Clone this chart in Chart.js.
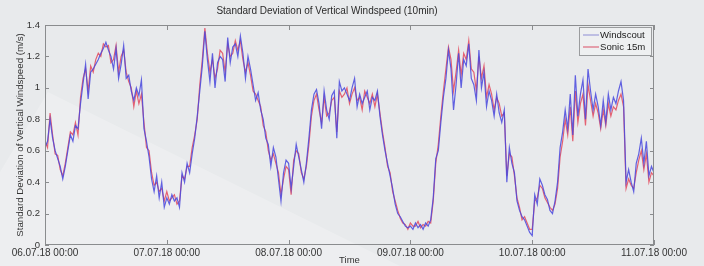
<!DOCTYPE html>
<html><head><meta charset="utf-8">
<script src="https://cdn.jsdelivr.net/npm/chart.js@4.4.1/dist/chart.umd.min.js"></script>
<style>html,body{margin:0;padding:0;background:#e8eaec;}#wrap{width:704px;height:266px;}</style>
</head><body><div id="wrap"><canvas id="c" width="704" height="266"></canvas></div>
<script>
// Tick labels (one per day)
const tickLabels = ["06.07.18 00:00","07.07.18 00:00","08.07.18 00:00","09.07.18 00:00","10.07.18 00:00","11.07.18 00:00"];
// sampling step of the series, hours
const stepHours = 0.5;
const seriesNames = ["Windscout","Sonic 15m"];

const windscout = [
0.62,0.66,0.80,0.68,0.60,0.55,0.50,0.42,0.50,0.60,0.70,0.66,0.76,0.74,0.90,1.03,1.15,0.93,1.10,1.12,1.15,1.18,1.22,1.25,1.29,1.24,1.20,1.12,1.25,1.06,1.15,1.27,1.06,1.08,0.98,0.92,1.00,0.95,1.05,0.74,0.66,0.56,0.42,0.34,0.44,0.30,0.40,0.24,
0.30,0.26,0.32,0.28,0.30,0.24,0.46,0.40,0.52,0.46,0.58,0.68,0.82,0.98,1.14,1.36,1.18,1.04,1.22,1.00,1.16,1.20,1.18,1.04,1.32,1.16,1.26,1.28,1.20,1.33,1.22,1.06,1.20,1.12,1.02,0.92,0.97,0.86,0.80,0.68,0.64,0.50,0.62,0.56,0.42,0.28,0.46,0.54,
0.52,0.36,0.50,0.64,0.56,0.48,0.40,0.52,0.68,0.86,0.96,0.99,0.90,0.74,0.98,0.86,0.80,0.95,0.98,0.68,1.04,0.98,1.00,0.96,0.92,1.00,1.06,0.88,0.96,0.90,0.94,0.98,0.86,0.94,0.92,0.98,0.82,0.70,0.60,0.52,0.44,0.36,0.26,0.20,0.18,0.15,0.12,0.11,
0.12,0.10,0.14,0.11,0.13,0.10,0.14,0.12,0.16,0.30,0.55,0.60,0.78,0.94,1.06,1.24,1.12,0.86,1.02,1.22,1.00,1.18,1.14,1.28,1.06,1.02,0.92,1.24,1.00,1.10,0.88,0.98,0.92,0.82,0.96,0.84,0.78,0.86,0.40,0.62,0.52,0.46,0.28,0.22,0.18,0.16,0.12,0.08,
0.06,0.32,0.26,0.42,0.38,0.32,0.29,0.22,0.20,0.28,0.40,0.62,0.72,0.86,0.74,0.96,0.70,1.08,0.82,0.96,1.05,0.80,1.12,0.98,0.86,0.96,0.88,0.76,0.92,0.78,0.96,0.86,0.94,0.90,0.98,1.04,0.92,0.40,0.48,0.40,0.34,0.52,0.58,0.68,0.52,0.66,0.44,0.50,0.46
];
const sonic = [
0.66,0.62,0.84,0.70,0.58,0.57,0.48,0.44,0.52,0.62,0.72,0.70,0.78,0.70,0.94,1.06,1.12,0.98,1.14,1.10,1.18,1.22,1.20,1.28,1.26,1.27,1.16,1.18,1.27,1.10,1.20,1.24,1.10,1.04,1.00,0.88,0.98,0.90,0.96,0.78,0.62,0.60,0.46,0.38,0.40,0.34,0.36,0.28,
0.34,0.28,0.30,0.32,0.26,0.28,0.44,0.42,0.50,0.50,0.62,0.70,0.80,1.02,1.18,1.38,1.22,1.10,1.18,1.06,1.12,1.24,1.22,1.10,1.28,1.20,1.22,1.30,1.24,1.30,1.18,1.10,1.16,1.08,0.98,0.96,0.92,0.88,0.76,0.72,0.60,0.54,0.58,0.52,0.46,0.32,0.42,0.50,
0.48,0.32,0.54,0.60,0.58,0.46,0.42,0.50,0.64,0.82,0.92,0.96,0.86,0.78,0.94,0.82,0.84,0.92,0.94,0.72,0.98,0.94,0.96,1.00,0.90,0.96,1.00,0.92,0.94,0.86,0.98,0.94,0.90,0.96,0.88,0.96,0.84,0.72,0.62,0.50,0.46,0.34,0.28,0.22,0.17,0.14,0.13,0.10,
0.14,0.12,0.12,0.15,0.11,0.13,0.12,0.15,0.14,0.28,0.52,0.64,0.82,0.98,1.12,1.26,1.18,0.98,1.10,1.24,1.08,1.22,1.18,1.30,1.12,1.10,0.98,1.20,1.06,1.14,0.94,1.02,0.96,0.86,0.94,0.90,0.82,0.84,0.44,0.58,0.56,0.44,0.30,0.24,0.16,0.18,0.14,0.10,
0.10,0.28,0.30,0.38,0.36,0.30,0.27,0.24,0.22,0.26,0.36,0.56,0.66,0.80,0.70,0.88,0.66,0.98,0.78,0.90,0.96,0.76,1.02,0.92,0.82,0.90,0.84,0.74,0.86,0.76,0.90,0.82,0.88,0.86,0.92,0.96,0.88,0.36,0.42,0.38,0.36,0.46,0.54,0.60,0.48,0.58,0.40,0.46,0.44
];

const toPoints = arr => arr.map((v, i) => ({x: i * stepHours, y: v}));
const FONT = '"Liberation Sans", Arial, sans-serif';
const colors = ['rgba(72,72,222,0.85)', 'rgba(226,62,84,0.80)'];

const bgPlugin = {
  id: 'bg',
  beforeDraw(chart) {
    const ctx = chart.ctx;
    ctx.save();
    ctx.fillStyle = '#e8eaec';
    ctx.fillRect(0, 0, chart.width, chart.height);
    // photo glare, lower-left
    ctx.fillStyle = 'rgba(255,255,255,0.22)';
    ctx.beginPath();
    ctx.moveTo(0, 172); ctx.lineTo(48, 92); ctx.lineTo(400, 266); ctx.lineTo(0, 266);
    ctx.closePath(); ctx.fill();
    ctx.restore();
  }
};

const framePlugin = {
  id: 'frame',
  afterDatasetsDraw(chart) {
    const {ctx, chartArea: a, scales: {x, y}} = chart;
    ctx.save();
    ctx.strokeStyle = '#8a8c8e';
    ctx.lineWidth = 1;
    ctx.strokeRect(Math.round(a.left) + 0.5, Math.round(a.top) + 0.5, Math.round(a.right - a.left) - 1, Math.round(a.bottom - a.top) - 1);
    ctx.beginPath();
    y.ticks.forEach(t => {
      const py = Math.round(y.getPixelForValue(t.value)) + 0.5;
      ctx.moveTo(a.left, py); ctx.lineTo(a.left + 4, py);
      ctx.moveTo(a.right - 4, py); ctx.lineTo(a.right, py);
    });
    x.ticks.forEach(t => {
      const px = Math.round(x.getPixelForValue(t.value)) + 0.5;
      ctx.moveTo(px, a.top); ctx.lineTo(px, a.top + 5);
      ctx.moveTo(px, a.bottom - 5); ctx.lineTo(px, a.bottom);
    });
    ctx.stroke();
    // legend box
    const lx = 579, ly = 27, lw = 72, lh = 28;
    ctx.fillStyle = '#eef0f1';
    ctx.fillRect(lx, ly, lw, lh);
    ctx.strokeStyle = '#9a9c9e';
    ctx.strokeRect(lx + 0.5, ly + 0.5, lw, lh);
    ctx.font = '9.6px ' + FONT;
    ctx.textBaseline = 'middle';
    ctx.fillStyle = '#222';
    chart.data.datasets.forEach((ds, i) => {
      const yy = ly + 8 + i * 12;
      ctx.strokeStyle = i === 0 ? 'rgba(150,150,215,0.9)' : 'rgba(220,90,110,0.9)';
      ctx.lineWidth = 1.2;
      ctx.beginPath(); ctx.moveTo(lx + 4, yy); ctx.lineTo(lx + 20, yy); ctx.stroke();
      ctx.fillText(ds.label, lx + 21, yy + 0.5);
    });
    ctx.restore();
  }
};

new Chart(document.getElementById('c'), {
  type: 'line',
  data: {
    datasets: [
      {label: seriesNames[0], data: toPoints(windscout), borderColor: colors[0], borderWidth: 1.2, pointRadius: 0, tension: 0},
      {label: seriesNames[1], data: toPoints(sonic), borderColor: colors[1], borderWidth: 1.2, pointRadius: 0, tension: 0}
    ]
  },
  options: {
    responsive: false, animation: false, devicePixelRatio: 1,
    layout: {padding: {left: 0, right: 50, top: 0, bottom: 0}},
    plugins: {
      legend: {display: false}, tooltip: {enabled: false},
      title: {display: true, text: 'Standard Deviation of Vertical Windspeed (10min)', color: '#2a2a2a',
              font: {family: FONT, size: 10, weight: 'normal'}, padding: {top: 5, bottom: 8}}
    },
    scales: {
      x: {
        type: 'linear', min: 0, max: (tickLabels.length - 1) * 24,
        border: {display: false}, grid: {display: false, drawTicks: false},
        ticks: {stepSize: 24, autoSkip: false, maxRotation: 0, padding: 2, color: '#333',
                font: {family: FONT, size: 10},
                callback: v => tickLabels[Math.round(v / 24)]},
        title: {display: true, text: 'Time', color: '#333', font: {family: FONT, size: 9.5}, padding: {top: 0, bottom: 0}},
        afterFit: s => { s.height = 21; }
      },
      y: {
        min: 0, max: 1.4,
        border: {display: false}, grid: {display: false, drawTicks: false},
        ticks: {stepSize: 0.2, padding: 5, color: '#333', font: {family: FONT, size: 9.5},
                callback: v => String(Number(v.toFixed(1)))},
        title: {display: true, text: 'Standard Deviation of Vertical Windspeed (m/s)', color: '#333',
                font: {family: FONT, size: 9.7}, padding: {top: 15, bottom: 0}},
        afterFit: s => { s.width = 45; }
      }
    }
  },
  plugins: [bgPlugin, framePlugin]
});
</script></body></html>
